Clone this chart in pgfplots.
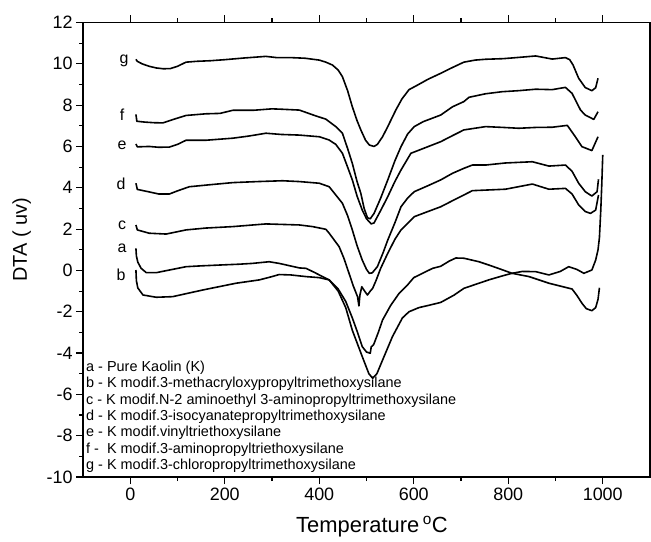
\documentclass[border=0pt]{standalone}
\usepackage{fontspec}
\setmainfont{Liberation Sans}
\usepackage{pgfplots}
\pgfplotsset{compat=1.18}
\begin{document}
\begin{tikzpicture}[dta/.style={black, solid, line width=1.6bp, line join=round, mark=none}]
\path[use as bounding box] (-83bp,-65bp) rectangle (568bp,477bp);
\begin{axis}[at={(0bp,0bp)}, anchor=south west, scale only axis,
 width=567bp, height=454.5bp,
 xmin=-100, xmax=1100, ymin=-10, ymax=12,
 xtick={0,200,...,1000}, ytick={-10,-8,...,12},
 minor x tick num=1, minor y tick num=1,
 tick align=outside, xtick pos=both, ytick pos=left,
 major tick length=7bp, minor tick length=4bp,
 axis line style={line width=1.2bp},
 every tick/.style={black, line width=1.1bp},
 tick label style={font=\fontsize{18}{20}\selectfont},
 /pgf/number format/assume math mode=true,
 /pgf/number format/1000 sep={},
]
% g
\addplot[dta] coordinates {(12,10.22)(15,10.12)(25,10.0)(40,9.88)(55,9.8)(70,9.76)(85,9.77)(100,9.88)(118,10.08)(140,10.12)(170,10.15)(200,10.2)(240,10.28)(287,10.36)(310,10.3)(340,10.3)(370,10.27)(400,10.18)(414,10.08)(428,9.94)(440,9.7)(449,9.38)(460,8.7)(470,7.92)(480,7.25)(488,6.8)(498,6.3)(506,6.07)(516,6.0)(523,6.1)(534,6.47)(545,6.96)(562,7.76)(575,8.3)(590,8.75)(608,8.97)(630,9.25)(657,9.54)(680,9.8)(706,10.08)(730,10.18)(752,10.22)(790,10.25)(822,10.31)(858,10.38)(893,10.23)(921,10.3)(930,10.2)(937,9.95)(949,9.3)(963,8.85)(977,8.7)(985,8.84)(990,9.3)};
% f
\addplot[dta] coordinates {(12,7.55)(14,7.22)(30,7.18)(50,7.15)(69,7.14)(90,7.3)(118,7.5)(160,7.58)(190,7.6)(217,7.75)(260,7.75)(300,7.82)(322,7.8)(358,7.76)(390,7.5)(414,7.32)(435,6.96)(449,6.64)(460,5.9)(470,5.18)(480,4.3)(488,3.73)(495,3.0)(502,2.55)(508,2.5)(516,2.76)(530,3.5)(545,4.38)(560,5.3)(573,5.99)(587,6.6)(601,6.96)(620,7.2)(657,7.52)(682,7.92)(706,8.17)(717,8.38)(752,8.55)(787,8.65)(822,8.7)(858,8.77)(893,8.75)(921,8.86)(935,8.57)(953,7.76)(963,7.52)(981,7.31)(990,7.68)};
% e
\addplot[dta] coordinates {(12,6.12)(15,5.98)(40,6.0)(60,5.96)(83,5.97)(100,6.1)(118,6.3)(160,6.3)(217,6.4)(250,6.5)(287,6.64)(320,6.58)(358,6.55)(400,6.47)(421,6.31)(435,6.1)(449,5.67)(460,5.0)(470,4.38)(480,3.6)(491,2.92)(500,2.5)(510,2.25)(516,2.3)(530,2.9)(545,3.57)(560,4.3)(573,4.86)(594,5.67)(620,5.9)(657,6.23)(680,6.5)(706,6.8)(752,6.96)(790,6.92)(822,6.88)(858,6.92)(893,6.93)(925,7.02)(942,6.47)(956,5.99)(977,5.8)(990,6.47)};
% d
\addplot[dta] coordinates {(12,4.22)(15,3.92)(40,3.8)(60,3.7)(83,3.7)(100,3.85)(125,4.05)(170,4.15)(217,4.25)(270,4.3)(322,4.34)(358,4.3)(400,4.22)(421,4.05)(449,3.25)(460,2.65)(470,1.96)(480,1.2)(491,0.5)(500,0.05)(506,-0.14)(512,-0.12)(523,0.18)(535,0.85)(545,1.47)(560,2.3)(573,3.08)(587,3.5)(601,3.81)(630,4.1)(657,4.38)(682,4.7)(706,4.94)(724,5.1)(752,5.1)(794,5.2)(851,5.26)(886,5.05)(921,5.1)(935,4.8)(949,4.22)(963,3.81)(977,3.6)(988,3.81)(991,4.41)};
% c
\addplot[dta] coordinates {(12,2.2)(15,1.96)(40,1.8)(76,1.76)(95,1.85)(118,1.96)(160,2.05)(217,2.12)(287,2.25)(330,2.22)(358,2.2)(386,2.12)(414,1.99)(421,1.8)(442,1.15)(452,0.6)(463,-0.14)(472,-0.75)(481,-1.27)(484,-1.72)(486,-1.2)(490,-0.79)(496,-1.0)(502,-1.19)(508,-1.0)(513,-0.87)(520,-0.5)(530,0.1)(545,0.83)(560,1.5)(573,1.96)(601,2.6)(630,2.85)(657,3.08)(680,3.35)(706,3.65)(724,3.86)(794,3.93)(851,4.18)(886,3.93)(921,3.97)(935,3.7)(949,3.17)(963,2.85)(974,2.76)(985,2.92)(991,3.65)};
% a
\addplot[dta] coordinates {(12,1.07)(13,0.7)(16,0.4)(23,0.1)(34,-0.11)(55,-0.11)(83,0.02)(118,0.18)(150,0.22)(189,0.26)(230,0.3)(259,0.34)(294,0.42)(315,0.34)(358,0.12)(372,0.1)(390,-0.1)(407,-0.3)(421,-0.46)(440,-0.9)(456,-1.5)(470,-2.3)(481,-3.0)(491,-3.69)(500,-3.95)(508,-4.01)(510,-3.7)(515,-3.6)(525,-3.0)(534,-2.4)(551,-1.7)(569,-1.11)(587,-0.7)(600,-0.35)(622,-0.1)(640,0.1)(657,0.2)(675,0.45)(689,0.6)(706,0.59)(738,0.42)(759,0.26)(785,0.05)(808,-0.14)(844,-0.3)(865,-0.46)(886,-0.62)(921,-0.82)(935,-0.9)(945,-1.2)(956,-1.59)(965,-1.85)(977,-1.95)(985,-1.8)(990,-1.4)(993,-0.84)};
% b
\addplot[dta] coordinates {(12,0.02)(13,-0.5)(16,-0.85)(27,-1.19)(55,-1.3)(90,-1.27)(153,-0.95)(224,-0.62)(273,-0.46)(300,-0.3)(315,-0.2)(340,-0.22)(372,-0.3)(400,-0.35)(421,-0.46)(440,-1.0)(456,-1.8)(470,-2.9)(491,-4.17)(505,-5.0)(513,-5.22)(522,-5.0)(534,-4.34)(555,-3.2)(576,-2.3)(590,-2.0)(611,-1.8)(630,-1.7)(657,-1.55)(685,-1.2)(706,-0.87)(738,-0.62)(760,-0.45)(790,-0.25)(808,-0.14)(830,-0.05)(858,-0.06)(886,-0.22)(910,-0.05)(928,0.18)(945,0.05)(960,-0.14)(977,0.02)(985,0.5)(990,1.0)(993,1.6)(996,3.0)(998,4.2)(1000,5.59)};
\end{axis}
% curve letters
\begin{scope}[every node/.style={anchor=base, font=\fontsize{16}{18}\selectfont, inner sep=0pt}]
\node at (41bp,413bp) {g};
\node at (39bp,356.3bp) {f};
\node at (39bp,327bp) {e};
\node at (38bp,287bp) {d};
\node at (39bp,247bp) {c};
\node at (39bp,224.7bp) {a};
\node at (38bp,196bp) {b};
\end{scope}
% legend text
\begin{scope}[every node/.style={anchor=base west, font=\fontsize{14.5}{16}\selectfont, inner sep=0pt}]
\node at (3bp,105.3bp) {a - Pure Kaolin (K)};
\node at (3bp,89bp) {b - K modif.3-methacryloxypropyltrimethoxysilane};
\node at (3bp,72.7bp) {c - K modif.N-2 aminoethyl 3-aminopropyltrimethoxysilane};
\node at (3bp,56.3bp) {d - K modif.3-isocyanatepropyltrimethoxysilane};
\node at (3bp,40bp) {e - K modif.vinyltriethoxysilane};
\node at (3bp,24bp) {f -~ K modif.3-aminopropyltriethoxysilane};
\node at (3bp,7.5bp) {g - K modif.3-chloropropyltrimethoxysilane};
\end{scope}
\node[anchor=base, font=\fontsize{22}{26}\selectfont, inner sep=0pt] at (289bp,-55bp) {Temperature\,\textsuperscript{o}C};
\node[rotate=90, anchor=base, font=\fontsize{20}{24}\selectfont, inner sep=0pt] at (-56bp,237bp) {DTA ( uv)};
\end{tikzpicture}
\end{document}
